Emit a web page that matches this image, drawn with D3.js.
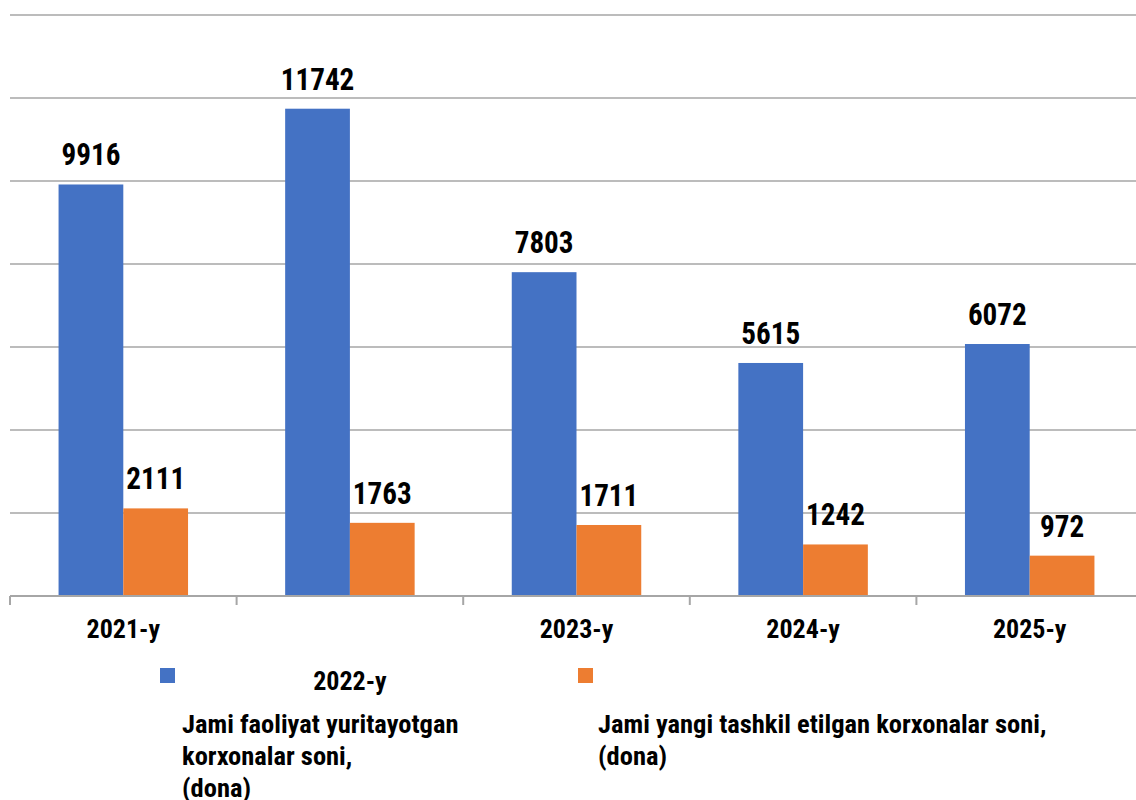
<!DOCTYPE html>
<html><head><meta charset="utf-8">
<script src="https://cdn.jsdelivr.net/npm/d3@7/dist/d3.min.js"></script>
<style>body{margin:0;background:#fff}svg{display:block}text{font-family:"Roboto Condensed","Roboto",sans-serif;font-weight:700;fill:#000}</style>
</head><body><svg id="c" width="1136" height="800"></svg>
<script>
const categories = ["2021-y","2022-y","2023-y","2024-y","2025-y"];
const seriesNames = ["Jami faoliyat yuritayotgan korxonalar soni, (dona)","Jami yangi tashkil etilgan korxonalar soni, (dona)"];
const activeValues = [9916,11742,7803,5615,6072];
const newValues = [2111,1763,1711,1242,972];
const yTicks = [0,2000,4000,6000,8000,10000,12000,14000];
const colors = ["#4472C4","#ED7D31"];

const svg = d3.select("#c");
const x = d3.scaleBand().domain(categories).range([10,1143]).paddingInner(0).paddingOuter(0);
const y = d3.scaleLinear().domain([0,14000]).range([596,15]);
const sub = d3.scaleBand().domain([0,1]).range([0,x.bandwidth()]).paddingInner(0).paddingOuter(0.75);
const K = 0.94;

// gridlines
svg.append("g").selectAll("line").data(yTicks.slice(1)).join("line")
  .attr("x1",10).attr("x2",1136).attr("y1",d=>y(d)).attr("y2",d=>y(d))
  .attr("stroke","#a6a6a6").attr("stroke-width",1.5);

const series = [activeValues,newValues];
series.forEach((vals,si)=>{
  svg.append("g").selectAll("rect").data(vals).join("rect")
    .attr("x",(d,i)=>x(categories[i])+sub(si))
    .attr("width",sub.bandwidth())
    .attr("y",d=>y(d)).attr("height",d=>y(0)-y(d))
    .attr("fill",colors[si]);
  svg.append("g").selectAll("text").data(vals).join("text")
    .attr("transform",(d,i)=>`translate(${x(categories[i])+sub(si)+sub.bandwidth()/2},${y(d)-19}) scale(${K},1)`)
    .attr("text-anchor","middle").style("font-size","31px").text(d=>d);
});

// axis
svg.append("line").attr("x1",10).attr("x2",1136).attr("y1",596).attr("y2",596).attr("stroke","#a6a6a6").attr("stroke-width",2);
svg.append("g").selectAll("line").data(categories).join("line")
  .attr("x1",d=>x(d)).attr("x2",d=>x(d)).attr("y1",596).attr("y2",605)
  .attr("stroke","#a6a6a6").attr("stroke-width",2);

svg.append("g").selectAll("text").data(categories).join("text")
  .attr("x",d=>x(d)+x.bandwidth()/2).attr("y",(d,i)=>i===1?690:638)
  .attr("text-anchor","middle").style("font-size","26px").text(d=>d);

// legend
const legendPos = [{sx:160,tx:182,lines:["Jami faoliyat yuritayotgan","korxonalar soni,","(dona)"]},
                   {sx:578,tx:598,lines:["Jami yangi tashkil etilgan korxonalar soni,","(dona)"]}];
legendPos.forEach((L,i)=>{
  svg.append("rect").attr("x",L.sx).attr("y",668).attr("width",15).attr("height",15).attr("fill",colors[i]);
  L.lines.forEach((ln,j)=>{
    svg.append("text").attr("x",L.tx).attr("y",733+j*32)
      .style("font-size","26.5px").text(ln);
  });
});
</script></body></html>
